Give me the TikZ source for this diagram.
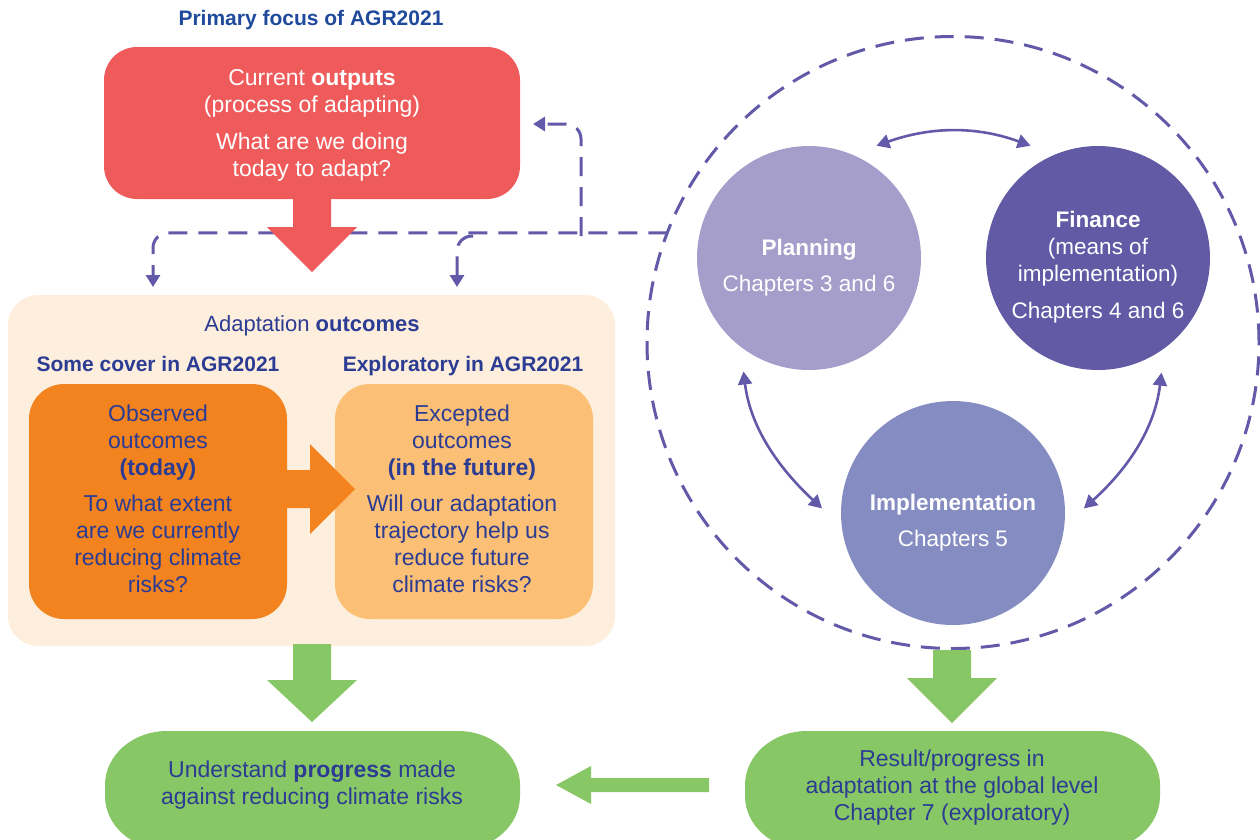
\documentclass[tikz,border=0pt]{standalone}
\usepackage{fontspec}
\setmainfont{Liberation Sans}
\usetikzlibrary{arrows.meta,calc}
\definecolor{redbox}{HTML}{EF5A5B}
\definecolor{tblue}{HTML}{1F4A9B}
\definecolor{bblue}{HTML}{2B3C92}
\definecolor{peach}{HTML}{FDEEDD}
\definecolor{orng}{HTML}{F3831F}
\definecolor{lorng}{HTML}{FBBF75}
\definecolor{grn}{HTML}{88C765}
\definecolor{purp}{HTML}{6259A8}
\definecolor{plan}{HTML}{A59ECB}
\definecolor{fin}{HTML}{635AA5}
\definecolor{impl}{HTML}{858CC1}
\newcommand\pillshape[4]{%
 \fill[grn] (#1+62,#2) -- (#3-62,#2) arc[start angle=-90,end angle=0,x radius=62,y radius=54]
  -- (#3,#4-54) arc[start angle=0,end angle=90,x radius=62,y radius=54]
  -- (#1+62,#4) arc[start angle=90,end angle=180,x radius=62,y radius=54]
  -- (#1,#2+54) arc[start angle=180,end angle=270,x radius=62,y radius=54] -- cycle;}
\begin{document}
\begin{tikzpicture}[x=1pt,y=-1pt,
  txt/.style={align=center,inner sep=0pt,font=\fontsize{23}{27}\selectfont},
  ctxt/.style={align=center,inner sep=0pt,text=white,font=\fontsize{22.5}{27}\selectfont},
  hdr/.style={align=center,inner sep=0pt,text=bblue,font=\fontsize{21}{25}\selectfont\bfseries},
  roundbox/.style={inner sep=0pt,outer sep=0pt,align=center},
  bubble/.style={circle,minimum size=224pt,inner sep=0pt,outer sep=19pt},
  dashline/.style={draw=purp,line width=3pt,dash pattern=on 19pt off 11pt},
  tipd/.style={-{Triangle[length=12pt,width=14pt]}},
  dbl/.style={draw=purp,line width=2.6pt,{Triangle[length=13pt,width=14pt]}-{Triangle[length=13pt,width=14pt]}}
]
\useasboundingbox (0,0) rectangle (1260,839);

% title
\node[hdr,text=tblue] (title) at (311,20) {Primary focus of AGR2021};

% outputs box
\node[roundbox,rounded corners=33pt,fill=redbox,minimum width=416pt,minimum height=152pt] (outputs) at (312,123) {};
\node[txt,text=white] (outputs-t) at (312,125.5)
  {Current \textbf{outputs}\\(process of adapting)\\[10pt]What are we doing\\today to adapt?};

% outcomes panel
\node[roundbox,rounded corners=30pt,fill=peach,minimum width=607pt,minimum height=351pt] (outcomes) at (311.5,470.5) {};
\node[txt,text=bblue,font=\fontsize{22}{26}\selectfont] (adlabel) at (312,326) {Adaptation \textbf{outcomes}};
\node[hdr] (somecover) at (158,364) {Some cover in AGR2021};
\node[hdr] (exploratory) at (463,366) {Exploratory in AGR2021};

\node[roundbox,rounded corners=35pt,fill=orng,minimum width=258pt,minimum height=235pt] (observed) at (158,501.5) {};
\node[roundbox,rounded corners=35pt,fill=lorng,minimum width=258pt,minimum height=235pt] (expected) at (464,501.5) {};
\node[txt,text=bblue] (observed-t) at (158,498.5)
  {Observed\\outcomes\\\textbf{(today)}\\[9pt]To what extent\\are we currently\\reducing climate\\risks?};
\node[txt,text=bblue] (expected-t) at (462,498.5)
  {Excepted\\outcomes\\\textbf{(in the future)}\\[9pt]Will our adaptation\\trajectory help us\\reduce future\\climate risks?};

% orange block arrow observed -> expected
\fill[orng] (280,470) -- (310,470) -- (310,444) -- (355,489) -- (310,534) -- (310,508) -- (280,508) -- cycle;

% dashed ring and circles
\node[circle,draw=purp,line width=3pt,dash pattern=on 19pt off 11pt,minimum size=612pt,inner sep=0pt,outer sep=0pt] (ring) at (953,342.5) {};
\node[bubble,fill=plan] (planning) at (809,258) {};
\node[bubble,fill=fin] (finance) at (1098,258) {};
\node[bubble,fill=impl] (implementation) at (953,513) {};
\node[ctxt] (planning-t) at (809,268) {\textbf{Planning}\\[9pt]Chapters 3 and 6};
\node[ctxt] (finance-t) at (1098,267.5) {\textbf{Finance}\\(means of\\implementation)\\[10pt]Chapters 4 and 6};
\node[ctxt] (implementation-t) at (953,522.5) {\textbf{Implementation}\\[9pt]Chapters 5};

\draw[dbl] (planning.59) .. controls +(54,-19) and +(-55,-20) .. (finance.121.5);
\draw[dbl] (planning.240) .. controls +(7,58) and +(-41,-38) .. (implementation.178);
\draw[dbl] (finance.299) .. controls +(-7,58) and +(42,-38) .. (implementation.2);

% dashed feedback connectors
\coordinate (junction) at (581,236);
\coordinate (branch) at (473,236);
\draw[dashline,tipd,rounded corners=15pt] (ring.159.7) -| ([xshift=-158.5pt,yshift=8pt]outcomes.north);
\draw[dashline,tipd,rounded corners=15pt] (branch) -| ([xshift=145.5pt,yshift=8pt]outcomes.north);
\draw[dashline,tipd,rounded corners=15pt] (junction) |- ([xshift=13pt,yshift=-1pt]outputs.east);

% red block arrow outputs -> outcomes
\fill[redbox] (293,197) -- (293,227) -- (267,227) -- (312,272) -- (357,227) -- (331,227) -- (331,197) -- cycle;

% green boxes
\pillshape{105}{731}{520}{850}
\pillshape{745}{731}{1160}{850}
\node[txt,text=bblue] (progress) at (312,785) {Understand \textbf{progress} made\\against reducing climate risks};
\node[txt,text=bblue] (result) at (952,787.5) {Result/progress in\\adaptation at the global level\\Chapter 7 (exploratory)};

% green block arrows
\fill[grn] (293,644) -- (293,680) -- (267,680) -- (312,722) -- (357,680) -- (331,680) -- (331,644) -- cycle;
\fill[grn] (933,650) -- (933,678) -- (907,678) -- (952,723) -- (997,678) -- (971,678) -- (971,650) -- cycle;
\fill[grn] (709,778) -- (591,778) -- (591,766) -- (556,785) -- (591,804) -- (591,792) -- (709,792) -- cycle;
\end{tikzpicture}
\end{document}
